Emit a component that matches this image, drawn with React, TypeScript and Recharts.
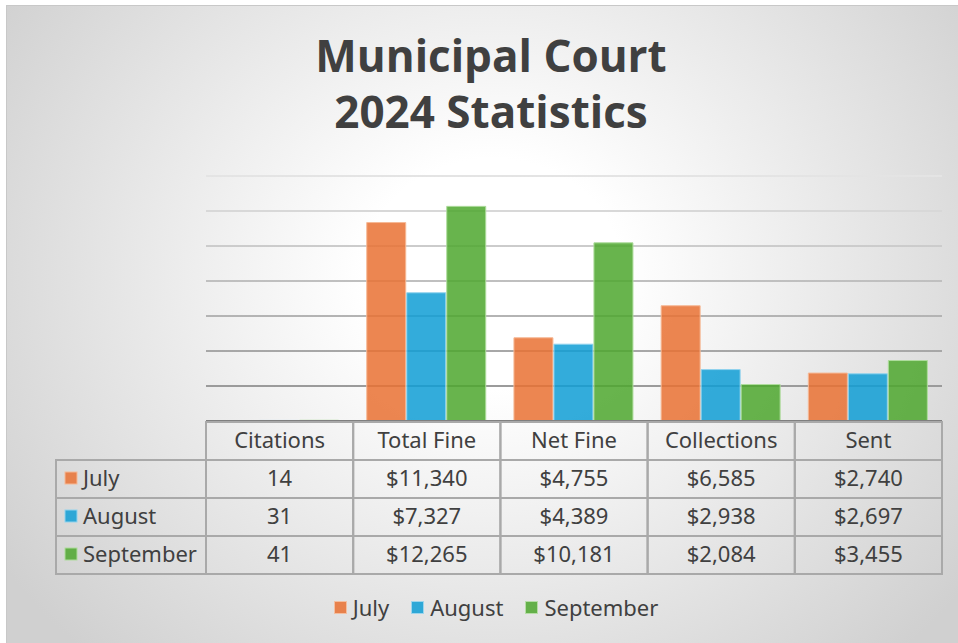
import React from 'react';
import { BarChart, Bar, XAxis, YAxis, CartesianGrid, Legend } from 'recharts';

// table columns / x categories
const categories = ['Citations', 'Total Fine', 'Net Fine', 'Collections', 'Sent'];

// monthly values, same order as categories
const july = [14, 11340, 4755, 6585, 2740];
const august = [31, 7327, 4389, 2938, 2697];
const september = [41, 12265, 10181, 2084, 3455];

const yTicks = [0, 2000, 4000, 6000, 8000, 10000, 12000, 14000];

const series = [
  { key: 'July', values: july, color: '#E97132', edge: '#F6B996' },
  { key: 'August', values: august, color: '#0F9ED5', edge: '#92D3EE' },
  { key: 'September', values: september, color: '#4EA72E', edge: '#AEDC9C' },
];

const data = categories.map((name, i) => ({
  name,
  July: july[i],
  August: august[i],
  September: september[i],
}));

const W = 958;
const H = 643;
const M = { top: 176, right: 16, left: 206, bottom: 70 };
const PLOT_W = W - M.left - M.right;
const ROW_H = 38;
const LABEL_W = 150;
const FONT = '"Noto Sans", "Open Sans", sans-serif';
const INK = '#404040';
const CELL = '#a9a9a9';

const money = (v: number) => {
  const s = String(v);
  return '$' + s.replace(/\B(?=(\d{3})+(?!\d))/g, ',');
};
const cellText = (cat: string, v: number) => (cat === 'Citations' ? String(v) : money(v));

const textStyle = { fontFamily: FONT, fontSize: 22, fill: INK };
const TXT_DY = -2; // text sits a little above the cell middle

// draws one table column under each category, plus the row labels on the first one
const TableColumn = (props: any) => {
  const { x, y, payload, index } = props;
  const colW = PLOT_W / categories.length;
  const left = x - colW / 2;
  const top = y + 1;
  const cat = payload.value as string;
  const ci = categories.indexOf(cat);
  return (
    <g>
      {index === 0 &&
        series.map((s, r) => {
          const ry = top + ROW_H * (r + 1);
          return (
            <g key={s.key}>
              <rect x={left - LABEL_W} y={ry} width={LABEL_W} height={ROW_H} fill="none" stroke={CELL} strokeWidth={2} />
              <rect x={left - LABEL_W + 9} y={ry + 12} width={12} height={12} fill={s.color} fillOpacity={0.85} stroke={s.edge} strokeWidth={1} />
              <text x={left - LABEL_W + 27} y={ry + ROW_H / 2 + TXT_DY} dominantBaseline="central" style={textStyle}>
                {s.key}
              </text>
            </g>
          );
        })}
      <rect x={left} y={top} width={colW} height={ROW_H} fill="none" stroke={CELL} strokeWidth={2} />
      <text x={x} y={top + ROW_H / 2 + TXT_DY} textAnchor="middle" dominantBaseline="central" style={textStyle}>
        {cat}
      </text>
      {series.map((s, r) => {
        const ry = top + ROW_H * (r + 1);
        return (
          <g key={s.key}>
            <rect x={left} y={ry} width={colW} height={ROW_H} fill="none" stroke={CELL} strokeWidth={2} />
            <text x={x} y={ry + ROW_H / 2 + TXT_DY} textAnchor="middle" dominantBaseline="central" style={textStyle}>
              {cellText(cat, s.values[ci])}
            </text>
          </g>
        );
      })}
    </g>
  );
};

const LegendRow = () => (
  <div style={{ display: 'flex', justifyContent: 'center', fontFamily: FONT, fontSize: 22, color: INK }}>
    {series.map((s) => (
      <span key={s.key} style={{ display: 'flex', alignItems: 'center', margin: '0 11px' }}>
        <span
          style={{
            width: 11,
            height: 11,
            background: s.color,
            opacity: 0.85,
            border: `1px solid ${s.edge}`,
            marginRight: 6,
          }}
        />
        {s.key}
      </span>
    ))}
  </div>
);

export default function App() {
  return (
    <div style={{ position: 'absolute', left: 0, top: 0, width: W, height: H, background: '#fff', overflow: 'hidden' }}>
      <div
        style={{
          position: 'absolute',
          left: 6,
          top: 5,
          width: W - 6,
          height: H - 5,
          borderTop: '1px solid #c8c8c8',
          borderLeft: '1px solid #c8c8c8',
          background: 'radial-gradient(ellipse 62% 82% at 51% 42%, #ffffff 0%, #ffffff 22%, #d0d0d0 100%)',
        }}
      />
      <div
        style={{
          position: 'absolute',
          left: 12,
          top: 27,
          width: W,
          textAlign: 'center',
          fontFamily: '"Open Sans", sans-serif',
          fontWeight: 700,
          fontSize: 44,
          lineHeight: '56px',
          color: INK,
        }}
      >
        Municipal Court
        <br />
        2024 Statistics
      </div>
      <div style={{ position: 'absolute', left: 0, top: 0 }}>
        <BarChart width={W} height={H} data={data} margin={M} barCategoryGap="9.2%" barGap={1}>
          <defs>
            <linearGradient id="gridFade" gradientUnits="userSpaceOnUse" x1="0" y1="176" x2="0" y2="421">
              <stop offset="0%" stopColor="#e4e4e4" />
              <stop offset="100%" stopColor="#8f8f8f" />
            </linearGradient>
          </defs>
          <CartesianGrid vertical={false} stroke="url(#gridFade)" strokeWidth={2} />
          <YAxis hide domain={[0, 14000]} ticks={yTicks} />
          <XAxis
            dataKey="name"
            height={152}
            interval={0}
            tickLine={false}
            tickSize={0}
            tickMargin={0}
            axisLine={{ stroke: '#7f7f7f', strokeWidth: 2 }}
            tick={<TableColumn />}
          />
          {series.map((s) => (
            <Bar
              key={s.key}
              dataKey={s.key}
              fill={s.color}
              fillOpacity={0.85}
              stroke={s.edge}
              strokeWidth={1}
              isAnimationActive={false}
            />
          ))}
          <Legend
            layout="horizontal"
            verticalAlign="middle"
            align="center"
            wrapperStyle={{ top: 592, left: 17, width: W }}
            content={<LegendRow />}
          />
        </BarChart>
      </div>
    </div>
  );
}
